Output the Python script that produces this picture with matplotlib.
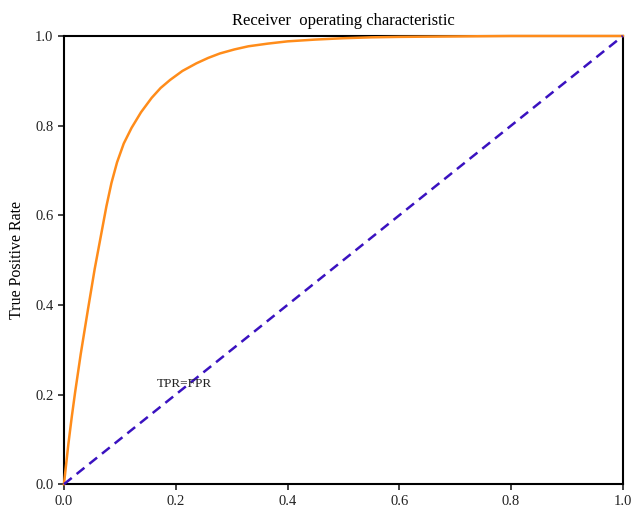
import matplotlib
matplotlib.use("Agg")
import matplotlib.pyplot as plt

# ROC curve points
fpr = [0.0, 0.004, 0.008, 0.014, 0.020, 0.030, 0.043, 0.055, 0.067, 0.076,
       0.085, 0.095, 0.107, 0.121, 0.138, 0.157, 0.173, 0.190, 0.212, 0.237,
       0.258, 0.279, 0.305, 0.330, 0.365, 0.400, 0.450, 0.500, 0.550, 0.600,
       0.700, 0.800, 0.900, 1.0]
tpr = [0.0, 0.045, 0.09, 0.15, 0.205, 0.29, 0.39, 0.48, 0.56, 0.62,
       0.672, 0.718, 0.760, 0.795, 0.830, 0.862, 0.884, 0.902, 0.922, 0.939,
       0.951, 0.961, 0.970, 0.977, 0.983, 0.988, 0.992, 0.995, 0.997, 0.998,
       0.999, 1.0, 1.0, 1.0]
diag = [0.0, 1.0]

plt.rcParams["font.family"] = ["Liberation Serif", "DejaVu Serif"]

fig = plt.figure(figsize=(6.33, 5.14), dpi=100)
ax = fig.add_axes([0.101, 0.058, 0.883, 0.872])

ax.plot(fpr, tpr, color="#ff8c1a", lw=1.8, clip_on=False, zorder=3,
        solid_joinstyle="round")
ax.plot(diag, diag, color="#3a12c0", lw=1.8, ls=(0, (4, 2.5)), clip_on=False, zorder=3)
ax.text(0.166, 0.223, "TPR=FPR", fontsize=9.5, va="center", ha="left", color="#222222")

ax.set_xlim(0, 1)
ax.set_ylim(0, 1)
ax.set_xticks([0.0, 0.2, 0.4, 0.6, 0.8, 1.0])
ax.set_yticks([0.0, 0.2, 0.4, 0.6, 0.8, 1.0])
ax.tick_params(direction="out", length=4, width=1.2, labelsize=10.5, colors="#222222")
for s in ax.spines.values():
    s.set_linewidth(1.5)
    s.set_color("black")

ax.set_title("Receiver  operating characteristic", fontsize=12, pad=8)
ax.set_ylabel("True Positive Rate", fontsize=11.5, labelpad=7)

fig.savefig("out.png", dpi=100)
